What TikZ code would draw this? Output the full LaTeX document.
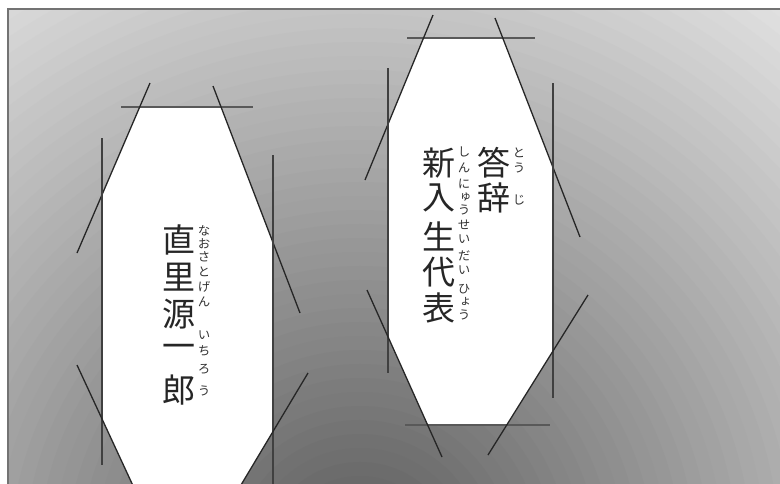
\documentclass[tikz,border=0pt]{standalone}
\usepackage{fontspec}
\newfontfamily\jp{Noto Sans CJK JP}
\newfontfamily\jpv[RawFeature=+vert]{Noto Sans CJK JP}
\begin{document}
\begin{tikzpicture}[x=1pt,y=-1pt,
  diag/.style={line width=1.3pt, black!85},
  vline/.style={line width=1.2pt, black!75},
  hbar/.style={line width=2.4pt, black!65},
  kanji/.style={font=\jp\fontsize{33}{33}\selectfont, inner sep=0pt, text=black!85},
  furi/.style={font=\jpv\fontsize{12.5}{12.5}\selectfont, inner sep=0pt,
    text height=0.88em, text depth=0.12em, text=black!80}]
\useasboundingbox (0,0) rectangle (780,483);
\fill[white] (0,0) rectangle (780,483);
\begin{scope}
  \clip (8,9) rectangle (781,484);
  \fill[black!12] (8,9) rectangle (781,484);
  \foreach \k in {0,...,49} {
    \pgfmathsetmacro{\rr}{700*(1-\k/50)}
    \pgfmathsetmacro{\pp}{12+53*\k/50}
    \fill[black!\pp] (360,560) circle[radius=\rr pt];
  }
\end{scope}
\draw[line width=1.5pt, black!55] (790,9) -- (8,9) -- (8,490);

% white hexagon fills
\fill[white] (140,107) -- (221,107) -- (273,243) -- (273,431) -- (238,490) -- (135,490) -- (102,419) -- (102,195) -- cycle;
\fill[white] (423.5,38) -- (503,38) -- (553,167.5) -- (553,351) -- (507,425) -- (428,425) -- (388,337) -- (388,124) -- cycle;

% left frame lines
\draw[hbar] (121,107) -- (253,107);
\draw[diag] (150,83) -- (77,253);
\draw[diag] (213,86) -- (300,313);
\draw[vline] (102,138) -- (102,465);
\draw[vline] (273,155) -- (273,490);
\draw[diag] (77,365) -- (135,490);
\draw[diag] (308,373) -- (238,490);

% right frame lines
\draw[hbar] (407,38) -- (535,38);
\draw[hbar] (405,425) -- (550,425);
\draw[diag] (433,15) -- (365,180);
\draw[diag] (495,18) -- (580,237);
\draw[vline] (388,68) -- (388,373);
\draw[vline] (553,83) -- (553,398);
\draw[diag] (367,290) -- (442,457);
\draw[diag] (588,295) -- (488,455);

% left text
\foreach \c/\y [count=\i] in {直/240,里/277,源/314,一/351,郎/390}
  \node[kanji] (a\i) at (179,\y) {\c};
\foreach \c/\y [count=\i] in {な/232,お/245,さ/258,と/273,げ/288,ん/303,い/336,ち/352,ろ/370,う/392}
  \node[furi] (fa\i) at (204,\y) {\c};

% right text
\foreach \c/\y [count=\i] in {答/163,辞/198}
  \node[kanji] (b\i) at (494,\y) {\c};
\foreach \c/\y [count=\i] in {と/154,う/169,じ/201}
  \node[furi] (fb\i) at (519,\y) {\c};
\foreach \c/\y [count=\i] in {新/163,入/198,生/236,代/272,表/308}
  \node[kanji] (c\i) at (439,\y) {\c};
\foreach \c/\y [count=\i] in {し/153,ん/169,に/185,ゅ/198,う/211,せ/226,い/240,だ/257,い/271,ひ/290,ょ/303,う/316}
  \node[furi] (fc\i) at (464,\y) {\c};
\end{tikzpicture}
\end{document}
